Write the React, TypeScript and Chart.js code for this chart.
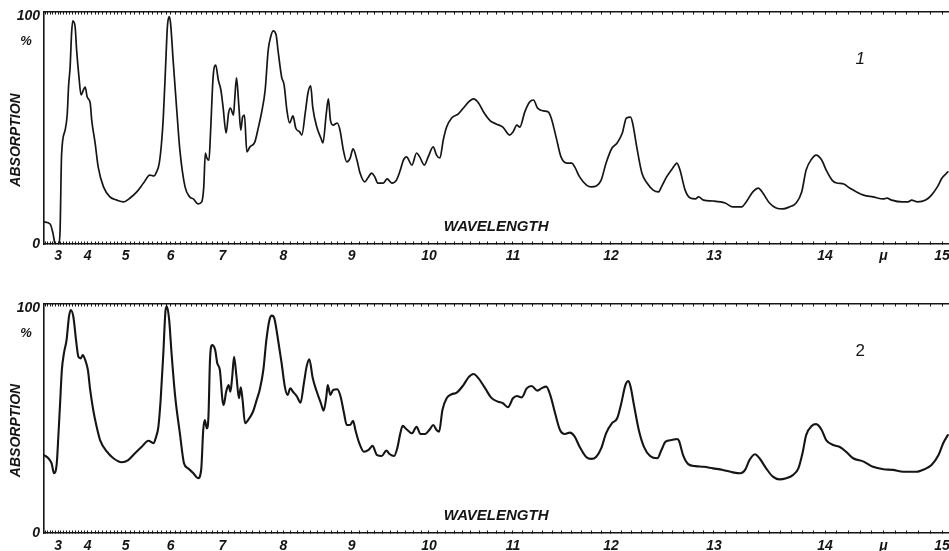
import React, { useEffect, useRef } from 'react';
import { Chart, LinearScale, registerables } from 'chart.js';

// ---- Wavelength axis calibration (prism spectrometer: non-linear in μ) ----
const CAL_UM = [2.45, 3, 4, 5, 6, 7, 8, 9, 10, 11, 12, 13, 14, 15, 15.06];
const CAL_FRAC = [0, 0.0155, 0.0481, 0.0901, 0.1398, 0.1972, 0.2646, 0.3398, 0.4254, 0.5182, 0.6265, 0.7403, 0.863, 0.9923, 1];

const X_MIN = 2.45;
const X_MAX = 15.06;
const MAJOR_TICKS = [3, 4, 5, 6, 7, 8, 9, 10, 11, 12, 13, 14, 15];
const MINOR_FROM = 2.5;
const MINOR_TO = 15.0;
const UNIT_TICK = 14.5;
const UNIT_LABEL = 'μ';
const Y_TICKS = [0, 100];

// ---- Spectrum 1 ----
const WL_1 = [
  2.45, 2.69, 2.80, 2.88, 3.00, 3.03, 3.07, 3.12, 3.24, 3.31,
  3.36, 3.41, 3.46, 3.50, 3.58, 3.63, 3.71, 3.78, 3.86, 3.92,
  3.99, 4.07, 4.11, 4.20, 4.28, 4.42, 4.59, 4.77, 4.94, 5.10,
  5.25, 5.40, 5.54, 5.63, 5.69, 5.75, 5.80, 5.84, 5.89, 5.93,
  5.97, 6.00, 6.05, 6.12, 6.18, 6.28, 6.37, 6.44, 6.53, 6.60,
  6.64, 6.67, 6.70, 6.74, 6.77, 6.82, 6.87, 6.92, 6.97, 7.01,
  7.06, 7.10, 7.13, 7.18, 7.20, 7.23, 7.27, 7.30, 7.33, 7.36,
  7.40, 7.45, 7.53, 7.59, 7.64, 7.70, 7.75, 7.79, 7.83, 7.88,
  7.91, 7.97, 8.01, 8.05, 8.09, 8.14, 8.18, 8.24, 8.27, 8.32,
  8.36, 8.40, 8.43, 8.49, 8.55, 8.58, 8.63, 8.66, 8.69, 8.73,
  8.79, 8.83, 8.88, 8.93, 8.98, 9.02, 9.07, 9.11, 9.17, 9.21,
  9.26, 9.30, 9.34, 9.41, 9.46, 9.52, 9.58, 9.63, 9.67, 9.71,
  9.78, 9.84, 9.88, 9.94, 9.99, 10.05, 10.09, 10.13, 10.17, 10.21,
  10.27, 10.35, 10.41, 10.47, 10.53, 10.59, 10.65, 10.73, 10.80, 10.88,
  10.96, 11.00, 11.04, 11.07, 11.12, 11.17, 11.21, 11.25, 11.31, 11.36,
  11.39, 11.44, 11.49, 11.55, 11.60, 11.63, 11.68, 11.75, 11.80, 11.85,
  11.90, 11.95, 12.01, 12.06, 12.11, 12.15, 12.19, 12.21, 12.25, 12.30,
  12.35, 12.41, 12.46, 12.49, 12.54, 12.60, 12.64, 12.67, 12.72, 12.77,
  12.82, 12.85, 12.90, 12.99, 13.10, 13.17, 13.25, 13.29, 13.35, 13.40,
  13.44, 13.50, 13.56, 13.62, 13.68, 13.74, 13.79, 13.83, 13.88, 13.92,
  13.97, 14.01, 14.06, 14.10, 14.16, 14.21, 14.27, 14.33, 14.41, 14.50,
  14.53, 14.57, 14.66, 14.71, 14.74, 14.79, 14.86, 14.91, 14.96, 15.00, 15.05,
];
const ABS_1 = [
  9.7, 8.8, 4.8, 0.4, 0, 0, 6.2, 39.1, 50.1, 56.7,
  69.9, 77.8, 92.8, 98.1, 95.4, 85.3, 73.4, 65.5, 67.7, 69.0,
  64.6, 62.0, 54.5, 44.4, 33.9, 25.1, 20.7, 19.3, 18.5, 20.2,
  22.9, 26.8, 30.3, 29.9, 31.7, 35.6, 44.4, 55.8, 77.8, 95.4,
  100, 97.2, 80.9, 58.9, 41.3, 25.1, 20.7, 19.8, 17.6, 18.5,
  25.1, 40.0, 37.8, 36.9, 48.8, 73.4, 78.7, 72.1, 67.7, 60.2,
  48.8, 57.6, 59.8, 56.7, 63.3, 73.0, 60.2, 50.1, 55.8, 56.7,
  40.5, 42.7, 44.8, 51.4, 57.6, 67.7, 85.3, 91.0, 93.7, 91.9,
  85.3, 73.4, 69.9, 58.9, 53.2, 56.3, 51.0, 49.2, 47.9, 57.6,
  66.4, 69.5, 60.2, 51.4, 46.6, 44.4, 57.6, 63.8, 54.5, 52.3,
  53.2, 50.1, 41.3, 36.1, 37.8, 41.8, 36.9, 31.2, 27.3, 29.0,
  31.2, 29.5, 26.8, 26.8, 28.6, 26.8, 28.1, 32.5, 36.9, 38.3,
  34.7, 40.0, 38.3, 34.7, 38.3, 42.7, 39.1, 37.8, 45.7, 51.4,
  55.4, 57.2, 59.8, 62.4, 63.8, 62.0, 58.0, 54.1, 52.8, 51.4,
  47.9, 49.2, 52.3, 51.4, 58.0, 62.4, 63.3, 59.8, 58.5, 58.0,
  55.4, 47.0, 38.3, 35.6, 35.6, 33.9, 29.5, 25.9, 25.1, 25.5,
  28.1, 35.6, 42.2, 44.4, 48.8, 55.4, 55.8, 53.2, 42.7, 31.2,
  26.8, 23.7, 22.9, 25.1, 29.5, 33.4, 35.6, 32.5, 23.7, 20.2,
  19.8, 20.7, 19.3, 18.9, 18.0, 16.3, 16.3, 18.5, 22.9, 24.6,
  22.4, 18.0, 15.8, 15.4, 16.3, 18.0, 22.9, 32.5, 37.4, 39.1,
  36.9, 32.5, 28.1, 26.8, 26.4, 24.6, 22.9, 21.5, 20.7, 19.8,
  20.2, 19.3, 18.5, 18.5, 19.3, 18.5, 19.3, 21.5, 25.1, 29.0, 31.7,
];

// ---- Spectrum 2 ----
const WL_2 = [
  2.45, 2.62, 2.75, 2.84, 2.95, 3.01, 3.07, 3.13, 3.20, 3.29,
  3.37, 3.43, 3.52, 3.61, 3.69, 3.77, 3.84, 3.92, 4.01, 4.07,
  4.15, 4.24, 4.33, 4.51, 4.68, 4.90, 5.06, 5.21, 5.36, 5.51,
  5.62, 5.68, 5.73, 5.78, 5.84, 5.89, 5.92, 5.97, 6.02, 6.09,
  6.18, 6.26, 6.34, 6.44, 6.53, 6.59, 6.63, 6.66, 6.70, 6.73,
  6.76, 6.80, 6.86, 6.90, 6.95, 7.00, 7.02, 7.06, 7.10, 7.13,
  7.16, 7.19, 7.23, 7.27, 7.30, 7.33, 7.37, 7.42, 7.50, 7.56,
  7.61, 7.67, 7.72, 7.77, 7.81, 7.85, 7.92, 7.97, 8.02, 8.06,
  8.10, 8.14, 8.20, 8.25, 8.30, 8.34, 8.38, 8.43, 8.49, 8.55,
  8.59, 8.63, 8.65, 8.69, 8.73, 8.79, 8.84, 8.89, 8.93, 8.98,
  9.02, 9.05, 9.10, 9.16, 9.22, 9.27, 9.33, 9.39, 9.45, 9.49,
  9.55, 9.59, 9.63, 9.66, 9.71, 9.78, 9.84, 9.89, 9.95, 10.01,
  10.05, 10.09, 10.12, 10.16, 10.21, 10.27, 10.33, 10.41, 10.47, 10.53,
  10.59, 10.67, 10.74, 10.82, 10.88, 10.94, 11.00, 11.04, 11.09, 11.14,
  11.19, 11.25, 11.29, 11.34, 11.38, 11.43, 11.48, 11.53, 11.58, 11.63,
  11.68, 11.75, 11.80, 11.85, 11.90, 11.95, 12.01, 12.06, 12.10, 12.14,
  12.17, 12.19, 12.22, 12.27, 12.32, 12.38, 12.45, 12.49, 12.53, 12.59,
  12.64, 12.66, 12.70, 12.75, 12.82, 12.90, 12.99, 13.08, 13.17, 13.24,
  13.28, 13.32, 13.37, 13.41, 13.47, 13.53, 13.59, 13.65, 13.71, 13.76,
  13.80, 13.83, 13.88, 13.92, 13.97, 14.01, 14.07, 14.13, 14.18, 14.24,
  14.33, 14.41, 14.50, 14.58, 14.67, 14.78, 14.85, 14.91, 14.97, 15.01, 15.05,
];
const ABS_2 = [
  34.7, 33.3, 31.0, 26.6, 31.0, 42.9, 57.8, 72.6, 80.0, 86.0,
  96.3, 99.3, 96.3, 86.0, 78.5, 77.8, 79.3, 77.1, 72.6, 63.7,
  54.8, 47.3, 41.4, 36.2, 33.3, 31.5, 32.5, 35.5, 38.4, 41.1,
  40.0, 42.9, 47.3, 59.2, 80.0, 99.3, 101, 94.9, 80.0, 60.7,
  44.4, 31.0, 28.8, 26.6, 24.4, 28.1, 45.9, 50.3, 46.6, 51.8,
  77.1, 83.7, 81.5, 75.6, 72.6, 59.2, 57.0, 62.9, 65.9, 62.9,
  69.6, 78.5, 69.6, 60.0, 64.9, 59.2, 48.9, 50.3, 54.0, 59.2,
  63.7, 72.6, 86.0, 94.9, 96.8, 95.6, 84.5, 75.6, 65.2, 61.5,
  64.4, 62.9, 60.7, 58.0, 66.7, 74.1, 77.4, 69.0, 62.9, 57.8,
  54.5, 60.7, 65.9, 61.5, 63.7, 64.0, 60.7, 53.3, 48.1, 48.1,
  50.0, 45.9, 40.0, 36.2, 37.0, 38.8, 34.7, 34.3, 36.7, 35.2,
  34.3, 37.7, 44.4, 47.7, 46.2, 44.4, 47.3, 44.1, 44.1, 46.2,
  48.1, 45.9, 45.1, 54.8, 60.0, 61.8, 62.5, 65.9, 69.3, 70.8,
  68.9, 64.4, 60.3, 58.5, 57.8, 56.0, 60.0, 61.0, 60.4, 64.4,
  65.5, 63.4, 64.4, 65.2, 61.5, 53.3, 45.9, 44.1, 44.7, 42.9,
  38.4, 33.7, 33.0, 34.0, 37.7, 44.4, 48.9, 51.1, 57.8, 65.9,
  67.7, 65.2, 57.8, 45.9, 38.4, 34.3, 33.3, 37.0, 40.7, 41.4,
  41.9, 41.1, 34.7, 30.7, 29.8, 29.5, 28.8, 28.1, 27.0, 26.6,
  28.1, 32.5, 35.1, 33.3, 28.8, 25.1, 23.9, 24.4, 25.8, 28.8,
  36.2, 43.6, 47.7, 48.5, 45.9, 41.4, 39.2, 38.2, 36.2, 33.3,
  31.8, 29.5, 28.4, 28.1, 27.3, 27.3, 28.4, 30.3, 34.7, 40.0, 43.6,
];

const INK = '#151515';
const FONT = '"Liberation Sans", Arial, sans-serif';

function interp(xs: number[], ys: number[], v: number): number {
  const n = xs.length;
  let i = 0;
  if (v >= xs[n - 1]) i = n - 2;
  else if (v > xs[0]) {
    while (i < n - 2 && v > xs[i + 1]) i++;
  }
  const t = (v - xs[i]) / (xs[i + 1] - xs[i]);
  return ys[i] + t * (ys[i + 1] - ys[i]);
}

class SpectralScale extends (LinearScale as any) {
  static id = 'spectral';
  buildTicks() {
    const out: any[] = [];
    const a = Math.round(MINOR_FROM * 10);
    const b = Math.round(MINOR_TO * 10);
    for (let i = a; i <= b; i++) out.push({ value: i / 10 });
    return out;
  }
  getPixelForValue(value: number) {
    const f = interp(CAL_UM, CAL_FRAC, value);
    return this.left + f * this.width;
  }
  getValueForPixel(pixel: number) {
    return interp(CAL_FRAC, CAL_UM, (pixel - this.left) / this.width);
  }
}

Chart.register(...registerables, SpectralScale as any);

const textPlugin = {
  id: 'panelText',
  afterDraw(chart: any, _args: any, opts: any) {
    const { ctx, chartArea, scales } = chart;
    const xs = scales.x;
    const ys = scales.y;
    ctx.save();
    ctx.fillStyle = INK;
    ctx.textAlign = 'center';
    ctx.textBaseline = 'middle';

    ctx.save();
    ctx.translate(16, (chartArea.top + chartArea.bottom) / 2 + 12);
    ctx.rotate(-Math.PI / 2);
    ctx.font = `italic bold 14px ${FONT}`;
    ctx.fillText('ABSORPTION', 0, 0);
    ctx.restore();

    ctx.font = `italic bold 13px ${FONT}`;
    ctx.fillText('%', 26, ys.getPixelForValue(89));

    ctx.font = `italic bold 15px ${FONT}`;
    ctx.fillText('WAVELENGTH', xs.getPixelForValue(10.8), ys.getPixelForValue(7.5));

    ctx.font = `${opts.numItalic ? 'italic ' : ''}17px ${FONT}`;
    ctx.fillText(opts.num, xs.getPixelForValue(14.3), ys.getPixelForValue(81));
    ctx.restore();
  },
};

type PanelProps = {
  wl: number[];
  ab: number[];
  num: string;
  numItalic: boolean;
  lineW: number;
  top: number;
  height: number;
  topAxisH: number;
  bottomAxisH: number;
  labelPad: number;
};

function Panel(p: PanelProps) {
  const ref = useRef<HTMLCanvasElement>(null);
  useEffect(() => {
    if (!ref.current) return;
    const n = Math.min(p.wl.length, p.ab.length);
    const pts = [];
    for (let i = 0; i < n; i++) pts.push({ x: p.wl[i], y: p.ab[i] });
    const tickFont = { family: FONT, size: 14, style: 'italic' as const, weight: 'bold' as const };
    const chart = new Chart(ref.current, {
      type: 'line',
      data: {
        datasets: [
          {
            data: pts,
            borderColor: INK,
            borderWidth: p.lineW,
            pointRadius: 0,
            fill: false,
            cubicInterpolationMode: 'monotone',
            borderJoinStyle: 'round',
            borderCapStyle: 'round',
            xAxisID: 'x',
            yAxisID: 'y',
          } as any,
        ],
      },
      options: {
        animation: false,
        responsive: false,
        events: [],
        layout: { padding: 0 },
        plugins: {
          legend: { display: false },
          tooltip: { enabled: false },
          panelText: { num: p.num, numItalic: p.numItalic },
        } as any,
        scales: {
          x: {
            type: 'spectral' as any,
            position: 'bottom',
            min: X_MIN,
            max: X_MAX,
            border: { display: true, color: INK, width: 1.6 },
            grid: { display: true, drawOnChartArea: false, drawTicks: true, tickLength: -2.5, color: INK, lineWidth: 1 },
            ticks: {
              autoSkip: false,
              maxRotation: 0,
              minRotation: 0,
              padding: p.labelPad,
              color: INK,
              font: tickFont,
              callback: (v: any) =>
                MAJOR_TICKS.includes(v) ? String(v) : v === UNIT_TICK ? UNIT_LABEL : '',
            },
            afterFit: (s: any) => {
              s.height = p.bottomAxisH;
              s.paddingLeft = 0;
              s.paddingRight = 0;
            },
          } as any,
          xTop: {
            type: 'spectral' as any,
            position: 'top',
            min: X_MIN,
            max: X_MAX,
            border: { display: true, color: INK, width: 1.6 },
            grid: { display: true, drawOnChartArea: false, drawTicks: true, tickLength: -2.5, color: INK, lineWidth: 1 },
            ticks: { display: false },
            afterFit: (s: any) => {
              s.height = p.topAxisH;
              s.paddingLeft = 0;
              s.paddingRight = 0;
            },
          } as any,
          y: {
            type: 'linear',
            position: 'left',
            min: 0,
            max: 102,
            border: { display: true, color: INK, width: 1.6 },
            grid: { display: false, drawTicks: false },
            ticks: { padding: 4, color: INK, font: tickFont, autoSkip: false },
            afterBuildTicks: (s: any) => {
              s.ticks = Y_TICKS.map((v) => ({ value: v }));
            },
            afterFit: (s: any) => {
              s.width = 44;
              s.paddingTop = 0;
              s.paddingBottom = 0;
            },
          } as any,
        },
      },
      plugins: [textPlugin as any],
    });
    return () => chart.destroy();
  }, []);
  return (
    <canvas
      ref={ref}
      width={949}
      height={p.height}
      style={{ position: 'absolute', left: 0, top: p.top, width: 949, height: p.height, display: 'block' }}
    />
  );
}

export default function App() {
  return (
    <div
      style={{
        position: 'fixed',
        left: 0,
        top: 0,
        width: 949,
        height: 551,
        background: '#ffffff',
        overflow: 'hidden',
      }}
    >
      <Panel wl={WL_1} ab={ABS_1} num="1" numItalic={true} lineW={1.7} top={0} height={270} topAxisH={12} bottomAxisH={26} labelPad={6.5} />
      <Panel wl={WL_2} ab={ABS_2} num="2" numItalic={false} lineW={2.1} top={270} height={281} topAxisH={34} bottomAxisH={18} labelPad={7} />
    </div>
  );
}
